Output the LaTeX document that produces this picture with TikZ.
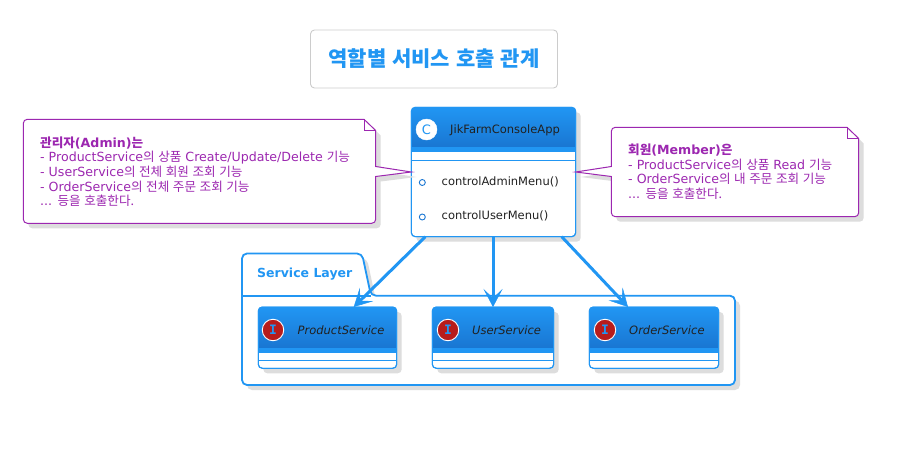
\documentclass[tikz,border=0pt]{standalone}
\usepackage{fontspec}
\setmainfont{DejaVu Sans}
\newfontfamily\kr[WordSpace=1.25]{Noto Sans CJK KR}
\newfontfamily\dvm{DejaVu Sans Mono}
\usetikzlibrary{arrows.meta,shadows}
\definecolor{blu}{HTML}{2196F3}
\definecolor{bludk}{HTML}{1976D2}
\definecolor{pur}{HTML}{9C27B0}
\definecolor{shd}{HTML}{DDDDDD}
\definecolor{ink}{HTML}{212121}
\definecolor{redi}{HTML}{B71C1C}
\newcommand\K[1]{{\kr #1}}
\newcommand\classbox[7]{% name,x0,x1,y0,headEnd,stripEnd,y1
  \node[cbox,minimum width=#3-#2,minimum height=#7-#4,anchor=north west] (#1) at (#2,#4) {};
  \begin{scope}
    \clip[rounded corners=4] (#1.north west) rectangle (#1.south east);
    \shade[top color=blu,bottom color=bludk] (#2,#4) rectangle (#3,#5);
    \fill[blu] (#2,#5) rectangle (#3,#6);
  \end{scope}
  \draw[blu,line width=1,rounded corners=4] (#1.north west) rectangle (#1.south east);
}
\tikzset{
  x=1pt,y=-1pt,
  cbox/.style={draw=blu,fill=white,line width=1,rounded corners=4,inner sep=0,outer sep=0,
    general shadow={shadow xshift=5pt,shadow yshift=-5pt,fill=shd}},
  shad/.style={general shadow={shadow xshift=5pt,shadow yshift=-5pt,fill=shd}},
  flow/.style={draw=blu,line width=3,-{Stealth[length=18,width=19,inset=9,line width=0.5]}},
  notebox/.style={draw=pur,fill=white,line width=1,shad},
  notetxt/.style={text=pur,align=left,anchor=north west,inner sep=0,font=\fontsize{12.6}{14.6}\selectfont},
  membertxt/.style={text=ink,anchor=west,inner sep=0,font=\fontsize{11.5}{14}\selectfont},
  nametxt/.style={text=ink,anchor=west,inner sep=0,font=\fontsize{11.5}{14}\selectfont},
  inamet/.style={text=ink,anchor=west,inner sep=0,font=\fontsize{11.5}{14}\selectfont\itshape},
  badge/.style={circle,draw=white,line width=0.9,minimum size=21.5,inner sep=0,fill=redi,text=blu,font=\fontsize{13}{14}\selectfont\dvm\bfseries},
  mdot/.style={circle,draw=bludk,line width=0.9,fill=white,minimum size=6,inner sep=0},
}
\begin{document}
\begin{tikzpicture}
\useasboundingbox (0,0) rectangle (909,463);
\fill[white] (0,0) rectangle (909,463);

% title
\node[draw=black!20,fill=white,line width=0.9,rounded corners=4,minimum width=247,minimum height=58,inner sep=0,
  text=blu,font=\fontsize{21}{24}\selectfont\bfseries] (title) at (434,59) {\K{역할별 서비스 호출 관계}};

% package
\draw[draw=blu,fill=white,line width=1.8,shad,rounded corners=5]
  (242,295.7) -- (242,253.5) -- (362,253.5) -- (371,295.7) -- (735,295.7) -- (735,385) -- (242,385) -- cycle;
\draw[blu,line width=1.8] (242,295.7) -- (371,295.7);
\node[text=blu,anchor=west,inner sep=0,font=\fontsize{12.5}{15}\selectfont\bfseries] (pkg) at (257,274) {Service Layer};

% main class
\classbox{app}{411.3}{575.7}{107.3}{147}{151.5}{236.7}
\draw[blu,line width=1] (411.3,151.5) -- (575.7,151.5);
\draw[blu,line width=1] (411.3,160.5) -- (575.7,160.5);
\node[circle,fill=white,draw=white,line width=0.4,minimum size=21,inner sep=0,text=blu,font=\fontsize{13}{14}\selectfont] (appc) at (426.5,129.5) {C};
\node[nametxt] (appn) at (450,130) {JikFarmConsoleApp};
\node[mdot] (m1) at (422.3,182.5) {};
\node[mdot] (m2) at (422.3,217) {};
\node[membertxt] (m1t) at (441.5,181.5) {controlAdminMenu()};
\node[membertxt] (m2t) at (441.5,216) {controlUserMenu()};

% interfaces
\classbox{prod}{258.3}{396.7}{307}{348}{352.5}{368.3}
\draw[blu,line width=1] (258.3,360.3) -- (396.7,360.3);
\node[badge] (prodi) at (273,330) {I};
\node[inamet] (prodn) at (297.5,330.5) {ProductService};

\classbox{user}{432.3}{553.7}{307}{348}{352.5}{368.3}
\draw[blu,line width=1] (432.3,360.3) -- (553.7,360.3);
\node[badge] (useri) at (448,330) {I};
\node[inamet] (usern) at (472,330.5) {UserService};

\classbox{order}{589.3}{718.7}{307}{348}{352.5}{368.3}
\draw[blu,line width=1] (589.3,360.3) -- (718.7,360.3);
\node[badge] (orderi) at (605,330) {I};
\node[inamet] (ordern) at (629,330.5) {OrderService};

% arrows
\draw[flow] ([xshift=14pt]app.south west) -- ([xshift=-43pt]prod.north east);
\draw[flow] ([xshift=-0.5pt]app.south) -- ([xshift=0pt]user.north);
\draw[flow] ([xshift=-14pt]app.south east) -- ([xshift=-26pt]order.north);

% left note
\draw[notebox]
  (364,119.3) [rounded corners=4] -- (23.3,119.3) -- (23.3,223.3) -- (375.7,223.3) [sharp corners]
  -- (375.7,176.5) -- (app.west) -- (375.7,166.5) -- (375.7,130.5) -- cycle;
\draw[pur,line width=1] (364,119.3) -- (364,130.5) -- (375.7,130.5);
\node[notetxt] (nl) at (40,136.5) {\textbf{\K{관리자}(Admin)\K{는}}\\
- ProductService\K{의 상품} Create/Update/Delete \K{기능}\\
- UserService\K{의 전체 회원 조회 기능}\\
- OrderService\K{의 전체 주문 조회 기능}\\
... \K{등을 호출한다.}};

% right note
\draw[notebox]
  (847,127.3) [rounded corners=4] -- (611.3,127.3) [sharp corners] -- (611.3,166.5) -- (app.east) -- (611.3,176.5)
  [rounded corners=4] -- (611.3,216.7) -- (858.7,216.7) [sharp corners] -- (858.7,138.5) -- cycle;
\draw[pur,line width=1] (847,127.3) -- (847,138.5) -- (858.7,138.5);
\node[notetxt] (nr) at (628,143.7) {\textbf{\K{회원}(Member)\K{은}}\\
- ProductService\K{의 상품} Read \K{기능}\\
- OrderService\K{의 내 주문 조회 기능}\\
... \K{등을 호출한다.}};
\end{tikzpicture}
\end{document}
